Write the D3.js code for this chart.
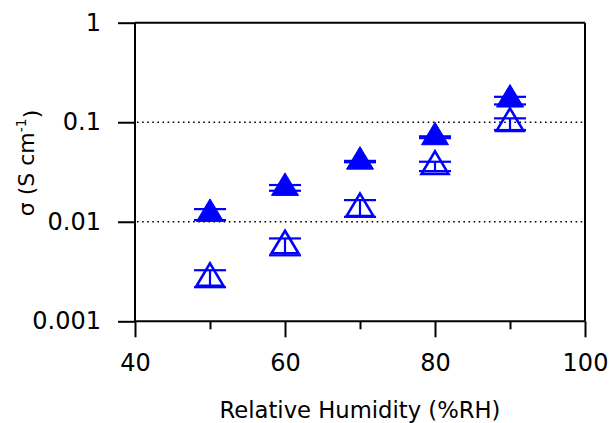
<!DOCTYPE html>
<html>

<head>
  <meta charset="utf-8">
  <title>Conductivity vs RH</title>
  <script src="https://d3js.org/d3.v7.min.js"></script>
  <style>
    body { margin: 0; background: #fff; }
    text { font-family: "DejaVu Sans", sans-serif; fill: #000; }
  </style>
</head>

<body>
  <div id="chart"></div>
  <script>
    // podaci ocitani sa slike
    var humidity = [50, 60, 70, 80, 90];

    var filledSigma = [0.0120, 0.0219, 0.0402, 0.0707, 0.169];
    var filledLow = [0.0104, 0.0205, 0.0396, 0.0692, 0.151];
    var filledHigh = [0.0134, 0.0234, 0.0409, 0.0722, 0.180];

    var openSigma = [0.0027, 0.00574, 0.01355, 0.036, 0.0975];
    var openLow = [0.0022, 0.0046, 0.0112, 0.0323, 0.0835];
    var openHigh = [0.00326, 0.0068, 0.0165, 0.0401, 0.1094];

    var xTicks = [40, 60, 80, 100];
    var xMinorTicks = [50, 70, 90];
    var yTicks = [1, 0.1, 0.01, 0.001];
    var gridValues = [0.1, 0.01];

    var margin = { top: 22.7, right: 26, bottom: 101.7, left: 135 };
    var width = 611 - margin.left - margin.right;
    var height = 423 - margin.top - margin.bottom;
    var blue = "#0000ff";

    var svg = d3.select("#chart")
      .append("svg")
      .attr("width", 611)
      .attr("height", 423)
      .append("g")
      .attr("transform", "translate(" + margin.left + "," + margin.top + ")");

    var x = d3.scaleLinear().domain([40, 100]).range([0, width]);
    var y = d3.scaleLog().domain([0.001, 1]).range([height, 0]);

    // tockaste linije
    svg.selectAll(".grid")
      .data(gridValues)
      .join("line")
      .attr("class", "grid")
      .attr("x1", 2)
      .attr("x2", width)
      .attr("y1", function (d) { return y(d); })
      .attr("y2", function (d) { return y(d); })
      .attr("stroke", "#000")
      .attr("stroke-width", 1.6)
      .attr("stroke-dasharray", "1.6,3.5");

    // okvir gore i desno
    svg.append("line")
      .attr("x1", 0).attr("x2", width)
      .attr("y1", 0).attr("y2", 0)
      .attr("stroke", "#000").attr("stroke-width", 2);
    svg.append("line")
      .attr("x1", width).attr("x2", width)
      .attr("y1", 0).attr("y2", height)
      .attr("stroke", "#000").attr("stroke-width", 2);

    var xAxis = d3.axisBottom(x)
      .tickValues(xTicks)
      .tickSize(16)
      .tickPadding(17)
      .tickFormat(d3.format("d"));

    var xMinor = d3.axisBottom(x)
      .tickValues(xMinorTicks)
      .tickSize(8)
      .tickFormat("");

    var yAxis = d3.axisLeft(y)
      .tickValues(yTicks)
      .tickSize(17)
      .tickPadding(17)
      .tickFormat(function (d) { return d >= 1 ? "1" : String(+d.toPrecision(1)); });

    svg.append("g")
      .attr("class", "x-minor")
      .attr("transform", "translate(0," + height + ")")
      .call(xMinor);

    svg.append("g")
      .attr("class", "x-axis")
      .attr("transform", "translate(0," + height + ")")
      .call(xAxis);

    svg.append("g")
      .attr("class", "y-axis")
      .call(yAxis);

    svg.selectAll(".x-axis, .x-minor, .y-axis").select(".domain").remove();
    svg.selectAll(".tick line").attr("stroke", "#000").attr("stroke-width", 2);
    svg.selectAll(".tick text").style("font-size", "24px");

    svg.append("line")
      .attr("x1", 0).attr("x2", width)
      .attr("y1", height).attr("y2", height)
      .attr("stroke", "#000").attr("stroke-width", 2);
    svg.append("line")
      .attr("x1", 0).attr("x2", 0)
      .attr("y1", 0).attr("y2", height)
      .attr("stroke", "#000").attr("stroke-width", 2);

    // naslovi osi
    svg.append("text")
      .attr("x", width / 2)
      .attr("y", 418 - margin.top)
      .attr("text-anchor", "middle")
      .style("font-size", "22.7px")
      .text("Relative Humidity (%RH)");

    var yTitle = svg.append("text")
      .attr("transform", "translate(" + (34 - margin.left) + "," + (163 - margin.top) + ") rotate(-90)")
      .attr("text-anchor", "middle")
      .style("font-size", "22px");
    yTitle.append("tspan").text("\u03c3 (S cm");
    yTitle.append("tspan").attr("dy", "-0.6em").style("font-size", "14px").text("-1");
    yTitle.append("tspan").attr("dy", "0.6em").text(")");

    // trokut s tezistem u tocki podatka
    var triPath = "M0,-15L13.5,7.5L-13.5,7.5Z";

    function drawSeries(cls, values, low, high, filled) {
      var rows = humidity.map(function (h, i) {
        return { x: h, v: values[i], lo: low[i], hi: high[i] };
      });

      var g = svg.append("g").attr("class", cls);

      g.selectAll(".err")
        .data(rows)
        .join("line")
        .attr("class", "err")
        .attr("x1", function (d) { return x(d.x); })
        .attr("x2", function (d) { return x(d.x); })
        .attr("y1", function (d) { return y(d.hi); })
        .attr("y2", function (d) { return y(d.lo); })
        .attr("stroke", blue)
        .attr("stroke-width", 2.2);

      g.selectAll(".marker")
        .data(rows)
        .join("path")
        .attr("class", "marker")
        .attr("d", triPath)
        .attr("transform", function (d) { return "translate(" + x(d.x) + "," + y(d.v) + ")"; })
        .attr("fill", filled ? blue : "none")
        .attr("stroke", blue)
        .attr("stroke-width", filled ? 1 : 2.6)
        .attr("stroke-linejoin", "miter");

      ["lo", "hi"].forEach(function (k) {
        g.selectAll(".cap-" + k)
          .data(rows)
          .join("line")
          .attr("class", "cap-" + k)
          .attr("x1", function (d) { return x(d.x) - 16; })
          .attr("x2", function (d) { return x(d.x) + 16; })
          .attr("y1", function (d) { return y(d[k]); })
          .attr("y2", function (d) { return y(d[k]); })
          .attr("stroke", blue)
          .attr("stroke-width", 2.2);
      });
    }

    drawSeries("open-series", openSigma, openLow, openHigh, false);
    drawSeries("filled-series", filledSigma, filledLow, filledHigh, true);
  </script>
</body>
</html>
